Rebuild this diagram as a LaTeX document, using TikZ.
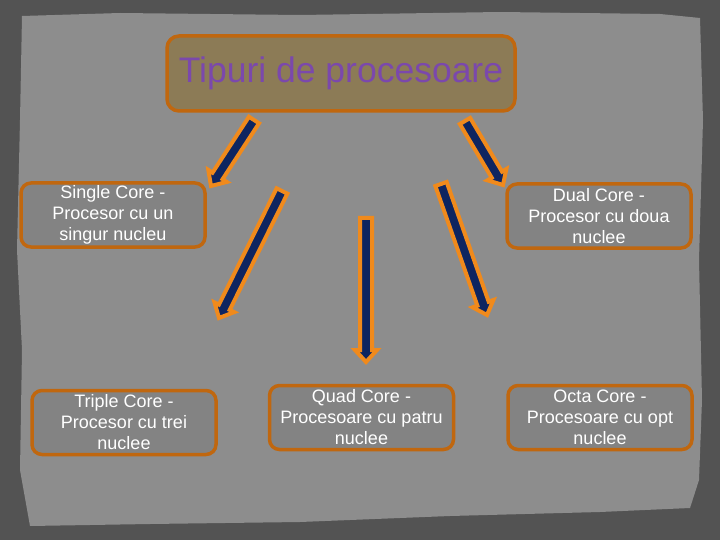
\documentclass[tikz,border=0pt]{standalone}
\usepackage{fontspec}
\setmainfont{Liberation Sans}
\usetikzlibrary{calc}
\definecolor{outerbg}{HTML}{535353}
\definecolor{innerbg}{HTML}{8D8D8D}
\definecolor{boxfill}{HTML}{838383}
\definecolor{boxline}{HTML}{C0670F}
\definecolor{titlefill}{HTML}{8C7B56}
\definecolor{titletext}{HTML}{7B48AC}
\definecolor{arrnavy}{HTML}{0E2560}
\definecolor{arrorange}{HTML}{F08A1C}
\tikzset{
  infobox/.style={draw=boxline, fill=boxfill, line width=3.5pt, rounded corners=10pt,
    minimum width=184pt, minimum height=64pt, inner sep=0pt, align=center,
    text=white, font=\fontsize{18pt}{21pt}\selectfont},
  titlebox/.style={draw=boxline, fill=titlefill, line width=3.5pt, rounded corners=12pt,
    minimum width=348pt, minimum height=75pt, inner sep=0pt,
    text=titletext, font=\fontsize{35.5pt}{40pt}\selectfont},
  blockarr/.style={draw=arrorange, fill=arrnavy, line width=4pt, line join=miter}
}
\newcommand{\blkarrow}[2]{%
  \coordinate (ba-c) at ($(#2)!12pt!(#1)$);
  \filldraw[blockarr] ($(#1)!6pt!90:(#2)$) -- ($(ba-c)!6pt!90:(#2)$) -- ($(ba-c)!11pt!90:(#2)$)
    -- (#2) -- ($(ba-c)!11pt!-90:(#2)$) -- ($(ba-c)!6pt!-90:(#2)$) -- ($(#1)!6pt!-90:(#2)$) -- cycle;}
\begin{document}
\begin{tikzpicture}[x=1pt,y=-1pt]
\useasboundingbox (0,0) rectangle (720,540);
\fill[outerbg] (0,0) rectangle (720,540);
\fill[innerbg] (22,16) -- (120,13) -- (300,15) -- (500,12) -- (660,14) -- (700,18)
  -- (703,120) -- (699,260) -- (702,400) -- (699,480) -- (690,508) -- (600,512)
  -- (450,516) -- (300,522) -- (150,524) -- (30,526) -- (20,470) -- (22,350)
  -- (17,250) -- (20,120) -- cycle;
\node[titlebox] (title) at (341,73.5) {Tipuri de procesoare};
\node[infobox] (single) at (113,215) {Single Core -\\Procesor cu un\\singur nucleu};
\node[infobox] (dual) at (599,216) {Dual Core -\\Procesor cu doua\\nuclee};
\node[infobox] (triple) at (124,422.5) {Triple Core -\\Procesor cu trei\\nuclee};
\node[infobox] (quad) at (361.5,417.5) {Quad Core -\\Procesoare cu patru\\nuclee};
\node[infobox] (octa) at (600,417.5) {Octa Core -\\Procesoare cu opt\\nuclee};
\coordinate (a1s) at (254,120);
\coordinate (a1e) at (211,186);
\coordinate (a2s) at (282,191);
\coordinate (a2e) at (219,318);
\coordinate (a3s) at (366,218);
\coordinate (a3e) at (366,362);
\coordinate (a4s) at (441,184);
\coordinate (a4e) at (487,315);
\coordinate (a5s) at (465,121);
\coordinate (a5e) at (503,185);
\blkarrow{a1s}{a1e}
\blkarrow{a2s}{a2e}
\blkarrow{a3s}{a3e}
\blkarrow{a4s}{a4e}
\blkarrow{a5s}{a5e}
\end{tikzpicture}
\end{document}
